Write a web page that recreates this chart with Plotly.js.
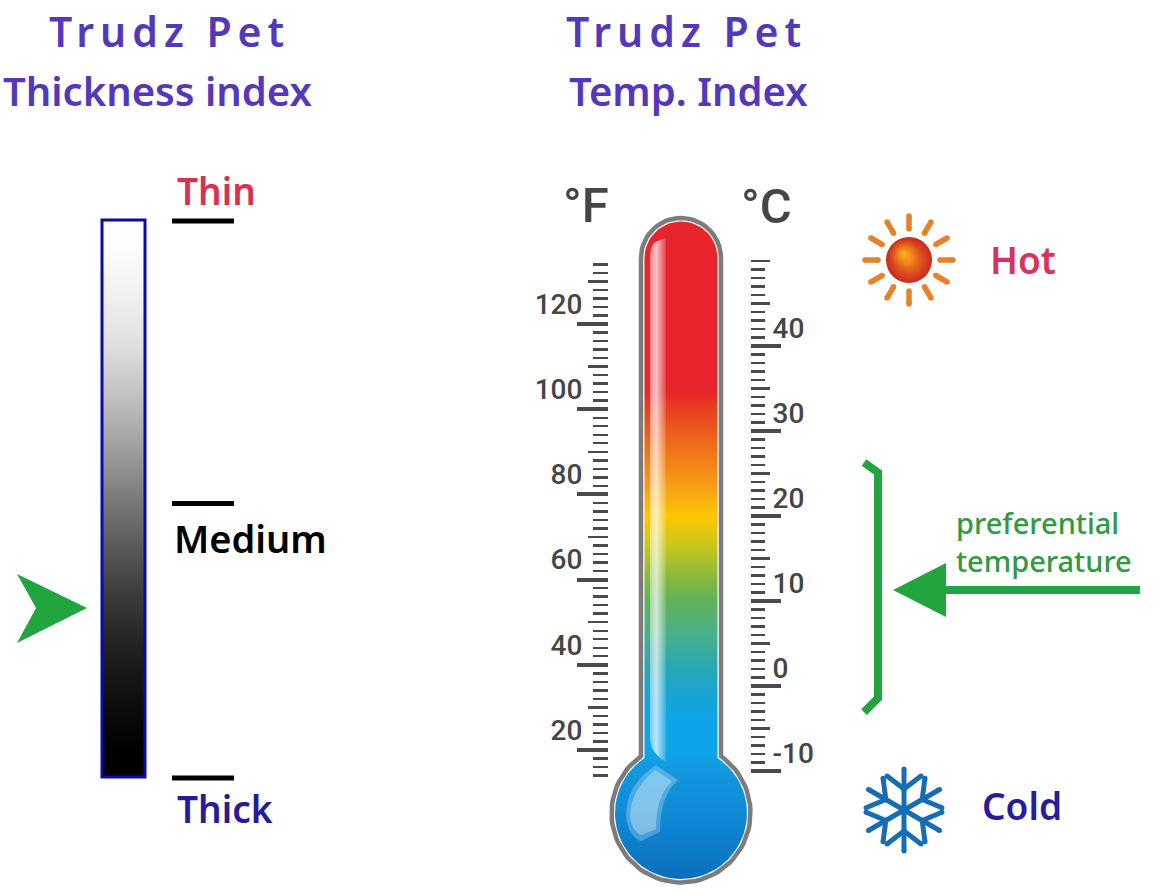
<!DOCTYPE html>
<html><head><meta charset="utf-8">
<script src="https://cdn.plot.ly/plotly-3.0.1.min.js"></script>
<style>html,body{margin:0;padding:0;background:#fff}#chart{width:1154px;height:892px}</style>
</head><body><div id="chart"></div>
<script>
// ---- chart values ----
const brandName = 'Trudz Pet';
const panelTitles = ['Thickness index', 'Temp. Index'];
const thicknessLabels = ['Thin', 'Medium', 'Thick'];
const thicknessScale = [0, 10, 20, 30, 40, 50, 60, 70, 80, 90, 100];   // thin -> thick
const thicknessGrey  = [253, 240, 222, 192, 158, 122, 88, 56, 32, 14, 0];
const thicknessPointer = 70;
const fahrenheitTicks = [20, 40, 60, 80, 100, 120];
const celsiusTicks = [-10, 0, 10, 20, 30, 40];
const comfortLabel = 'preferential<br>temperature';
const comfortCelsius = [-3.2, 26.3];
const comfortArrowCelsius = 11.3;
const hotLabel = 'Hot';
const coldLabel = 'Cold';
const fillFahrenheit = [134, 104, 101, 91, 81, 75, 68, 62, 55, 48, 40, 33, 27, 19];
const fillColours = ['#e8242c','#e8242c','#e83a20','#ef6f1a','#f8a216','#fdc600','#c9c71c','#94bb36','#5fb258','#4cb087','#2aa8ae','#18a4d4','#0ea5e8','#0ea5e8'];
const bulbColours = ['#1398de', '#0f88d3', '#0b6fbd'];

// ---- drawing geometry (pixels of the 1154x892 canvas) ----
const W = 1154, H = 892;
const barL = 102, barR = 145, barTop = 220, barBot = 777;
const thickY = v => barTop + (barBot - barTop) * v / 100;
const barRowY = v => barTop + (barBot - barTop) * (v + 5) / 110;
const fY = f => 324 + (120 - f) * 4.26;
const cY = c => 346 + (40 - c) * 8.5;
const cx = 681, archY = 258, bulbY = 813, tubeR = 36.5, bulbR = 66;

function silhouette(d) {
  const r = tubeR + d, R = bulbR + d, xs = [], ys = [];
  for (let a = 180; a >= 0; a -= 6) { xs.push(cx + r * Math.cos(a * Math.PI / 180)); ys.push(archY - r * Math.sin(a * Math.PI / 180)); }
  const t0 = Math.asin(r / R), t1 = 2 * Math.PI - t0;
  for (let i = 0; i <= 72; i++) { const t = t0 + (t1 - t0) * i / 72; xs.push(cx + R * Math.sin(t)); ys.push(bulbY - R * Math.cos(t)); }
  xs.push(xs[0]); ys.push(ys[0]);
  return {x: xs, y: ys};
}
function segments(list) {
  const x = [], y = [];
  list.forEach(s => { x.push(s[0], s[2], null); y.push(s[1], s[3], null); });
  return {x, y};
}
// sun rays
const sun = {x: 909, y: 260};
const rays = [];
for (let a = 0; a < 360; a += 30) {
  const c = Math.cos(a * Math.PI / 180), s = Math.sin(a * Math.PI / 180);
  rays.push([sun.x + 31 * c, sun.y + 31 * s, sun.x + 44 * c, sun.y + 44 * s]);
}
// snowflake arms
const flake = {x: 904, y: 810};
const flakeSegs = [];
for (let a = 30; a < 390; a += 60) {
  const c = Math.cos(a * Math.PI / 180), s = Math.sin(a * Math.PI / 180);
  const at = (u, v) => [flake.x + u * c - v * s, flake.y + u * s + v * c];
  flakeSegs.push([...at(0, 0), ...at(41, 0)], [...at(21, 0), ...at(34, 17)], [...at(21, 0), ...at(34, -17)]);
}
const rayLines = segments(rays), flakeLines = segments(flakeSegs);

// gradient for the thermometer liquid, top to bottom of the silhouette
const gradTop = archY - tubeR, gradBot = bulbY + bulbR;
const fillStops = fillFahrenheit.map((f, i) => [Math.min(1, Math.max(0, (fY(f) - gradTop) / (gradBot - gradTop))), fillColours[i]]);
fillStops[0][0] = 0;
[770, 820, 879].forEach((y, i) => fillStops.push([(y - gradTop) / (gradBot - gradTop), bulbColours[i]]));
const outer = silhouette(3.5), liquid = silhouette(0);

const gloss = {x: [650, 650, 652, 656, 660, 666, 666, 660, 654, 651, 650],
               y: [256, 740, 748, 754, 758, 762, 238, 240, 243, 248, 256]};

const traces = [
  {type: 'heatmap', x: [barL + (barR - barL) / 4, barR - (barR - barL) / 4], y: thicknessScale.map(barRowY),
   z: thicknessGrey.map(g => [g, g]), zmin: 0, zmax: 255, zsmooth: 'best', showscale: false, hoverinfo: 'skip',
   colorscale: [[0, '#000'], [1, '#fff']]},
  {type: 'scatter', mode: 'lines', x: outer.x, y: outer.y, fill: 'toself', fillcolor: '#fff', line: {color: '#7c7c7c', width: 4.5}, hoverinfo: 'skip'},
  {type: 'scatter', mode: 'lines', x: liquid.x, y: liquid.y, fill: 'toself', line: {color: 'rgba(255,255,255,0)', width: 0}, hoverinfo: 'skip',
   fillgradient: {type: 'vertical', start: gradTop, stop: gradBot, colorscale: fillStops}},
  {type: 'scatter', mode: 'lines', x: gloss.x, y: gloss.y, fill: 'toself', line: {color: 'rgba(255,255,255,0)', width: 0}, hoverinfo: 'skip',
   fillgradient: {type: 'horizontal', start: 650, stop: 666, colorscale: [[0, 'rgba(255,255,255,0.45)'], [0.4, 'rgba(255,255,255,0.72)'], [1, 'rgba(255,255,255,0.12)']]}},
  {type: 'scatter', mode: 'lines+markers', x: rayLines.x, y: rayLines.y, line: {color: '#e5832a', width: 5.5}, marker: {size: 5.5, color: '#e5832a'}, hoverinfo: 'skip'},
  {type: 'scatter', mode: 'markers', x: [sun.x], y: [sun.y], hoverinfo: 'skip',
   marker: {size: 46, color: '#c9281f', gradient: {type: 'radial', color: '#f58a1a'}, line: {width: 0}}},
  {type: 'scatter', mode: 'markers', x: [sun.x - 5], y: [sun.y - 6], hoverinfo: 'skip',
   marker: {size: 30, color: 'rgba(245,130,30,0)', gradient: {type: 'radial', color: 'rgba(250,190,30,0.95)'}, line: {width: 0}}},
  {type: 'scatter', mode: 'lines+markers', x: flakeLines.x, y: flakeLines.y, line: {color: '#176db2', width: 5}, marker: {size: 5, color: '#176db2'}, hoverinfo: 'skip'},
  // axis carriers
  {type: 'scatter', x: [null], y: [null], xaxis: 'x', yaxis: 'y2', hoverinfo: 'skip'},
  {type: 'scatter', x: [null], y: [null], xaxis: 'x', yaxis: 'y3', hoverinfo: 'skip'},
  {type: 'scatter', x: [null], y: [null], xaxis: 'x', yaxis: 'y4', hoverinfo: 'skip'},
  {type: 'scatter', x: [null], y: [null], xaxis: 'x', yaxis: 'y5', hoverinfo: 'skip'}
];

const purple = '#5338bd', green = '#22a53f', tickCol = '#4a4a4a';
const headFont = {family: '"Noto Sans", "Open Sans", sans-serif', weight: 600};
const scaleFont = {family: 'Roboto, "Open Sans", sans-serif', color: '#454545', size: 28, weight: 500};
const unitFont = {family: 'Roboto, "Open Sans", sans-serif', size: 49, color: '#454545', weight: 500};
function note(text, x, y, size, color, anchor, extra) {
  return Object.assign({text, x, y, xref: 'x', yref: 'y', showarrow: false, xanchor: anchor || 'left', yanchor: 'middle',
    font: Object.assign({}, headFont, {size, color})}, extra || {});
}
const annotations = [
  note(brandName, 169, 31, 41, purple, 'center'),
  note(brandName, 686, 31, 41, purple, 'center'),
  note(panelTitles[0], 157, 90, 40, purple, 'center'),
  note(panelTitles[1], 688, 90, 40, purple, 'center'),
  note(thicknessLabels[0], 175, 190, 37, '#d9324f'),
  note(thicknessLabels[1], 172, 538, 38, '#000000'),
  note(thicknessLabels[2], 175, 808, 37, '#261b99'),
  note(hotLabel, 988, 259, 37, '#d6335f'),
  note(coldLabel, 980, 805, 37, '#2a1a9e'),
  note(comfortLabel, 954, 541, 29, '#2f9a40', 'left', {align: 'left', font: {family: '"Noto Sans", sans-serif', size: 29, color: '#2f9a40', weight: 500}}),
  note('°F', 586, 205, 49, '#454545', 'center', {font: unitFont}),
  note('°C', 766, 206, 49, '#454545', 'center', {font: unitFont})
];

const line = (x0, y0, x1, y1, color, width) => ({type: 'line', xref: 'x', yref: 'y', x0, y0, x1, y1, line: {color, width}, layer: 'above'});
const poly = (d, fill, opacity) => ({type: 'path', xref: 'x', yref: 'y', path: d, fillcolor: fill, opacity: opacity === undefined ? 1 : opacity, line: {width: 0}, layer: 'above'});
const bracketTop = cY(comfortCelsius[1]), bracketBot = cY(comfortCelsius[0]);
const arrowY = cY(comfortArrowCelsius);
const pointerY = thickY(thicknessPointer);
const shapes = [
  {type: 'rect', xref: 'x', yref: 'y', x0: barL, x1: barR, y0: barTop, y1: barBot, line: {color: '#0b0ba8', width: 3}, layer: 'above'},
  ...thicknessScale.filter(v => v === 0 || v === 50 || v === 100).map(v => line(172, thickY(v) + (v === 50 ? 5 : 1), 234, thickY(v) + (v === 50 ? 5 : 1), '#000', 5)),
  poly(`M17,${pointerY - 36}L87,${pointerY - 2}L17,${pointerY + 33}L36,${pointerY - 2}Z`, green),
  // bulb gloss
  poly('M656,765L678,780Q660,795 660,832L641,841Q628,836 626,815Q626,785 656,765Z', 'rgba(255,255,255,0.25)'),
  poly('M655,770L672,781Q656,796 656,829L641,835Q631,830 630,815Q631,790 655,770Z', 'rgba(255,255,255,0.3)'),
  // comfort bracket and arrow
  {type: 'path', xref: 'x', yref: 'y', path: `M864,${bracketTop}L878,${bracketTop + 10}L878,${bracketBot - 15}L864,${bracketBot - 1}`, line: {color: green, width: 8}, layer: 'above'},
  line(946, arrowY, 1140, arrowY, green, 8),
  poly(`M893,${arrowY}L946,${arrowY - 27}L946,${arrowY + 27}Z`, green)
];

const dom = (top, bot) => [1 - bot / H, 1 - top / H];
const fAxis = (extra) => Object.assign({anchor: 'free', position: 608 / W, side: 'left', domain: dom(fY(134.4), fY(13.6)), range: [13.6, 134.4], autorange: false,
  showgrid: false, zeroline: false, showline: false, ticks: 'outside', tickcolor: tickCol}, extra);
const cAxis = (extra) => Object.assign({anchor: 'free', position: 750 / W, side: 'right', domain: dom(cY(50.3), cY(-10.3)), range: [-10.3, 50.3], autorange: false,
  showgrid: false, zeroline: false, showline: false, ticks: 'outside', tickcolor: tickCol}, extra);

const layout = {
  width: W, height: H, margin: {l: 0, r: 0, t: 0, b: 0}, autosize: false, showlegend: false,
  paper_bgcolor: '#fff', plot_bgcolor: 'rgba(0,0,0,0)', hovermode: false,
  xaxis: {range: [0, W], visible: false, fixedrange: true, domain: [0, 1]},
  yaxis: {range: [H, 0], visible: false, fixedrange: true, domain: [0, 1]},
  yaxis2: fAxis({tickmode: 'array', tickvals: fahrenheitTicks, ticktext: fahrenheitTicks.map(String), ticklen: 31, tickwidth: 4,
    tickfont: scaleFont, ticklabelstandoff: -11, ticklabelshift: -20,
    minor: {dtick: 2, tick0: 0, ticks: 'outside', ticklen: 15, tickwidth: 2.4, tickcolor: tickCol, showgrid: false}}),
  yaxis3: fAxis({dtick: 10, tick0: 0, ticklen: 20, tickwidth: 2.4, showticklabels: false}),
  yaxis4: cAxis({tickmode: 'array', tickvals: celsiusTicks, ticktext: celsiusTicks.map(String), ticklen: 30, tickwidth: 3.5,
    tickfont: scaleFont, ticklabelstandoff: -14, ticklabelshift: -18,
    minor: {dtick: 1, tick0: 0, ticks: 'outside', ticklen: 14, tickwidth: 2.4, tickcolor: tickCol, showgrid: false}}),
  yaxis5: cAxis({dtick: 5, tick0: 0, ticklen: 19, tickwidth: 2.4, showticklabels: false}),
  shapes, annotations
};

Plotly.newPlot('chart', traces, layout, {displayModeBar: false, staticPlot: true}).then(() => {
  document.querySelectorAll('.annotation-text').forEach(t => {
    if (t.textContent === brandName) t.style.letterSpacing = '6px';
  });
});
</script></body></html>
